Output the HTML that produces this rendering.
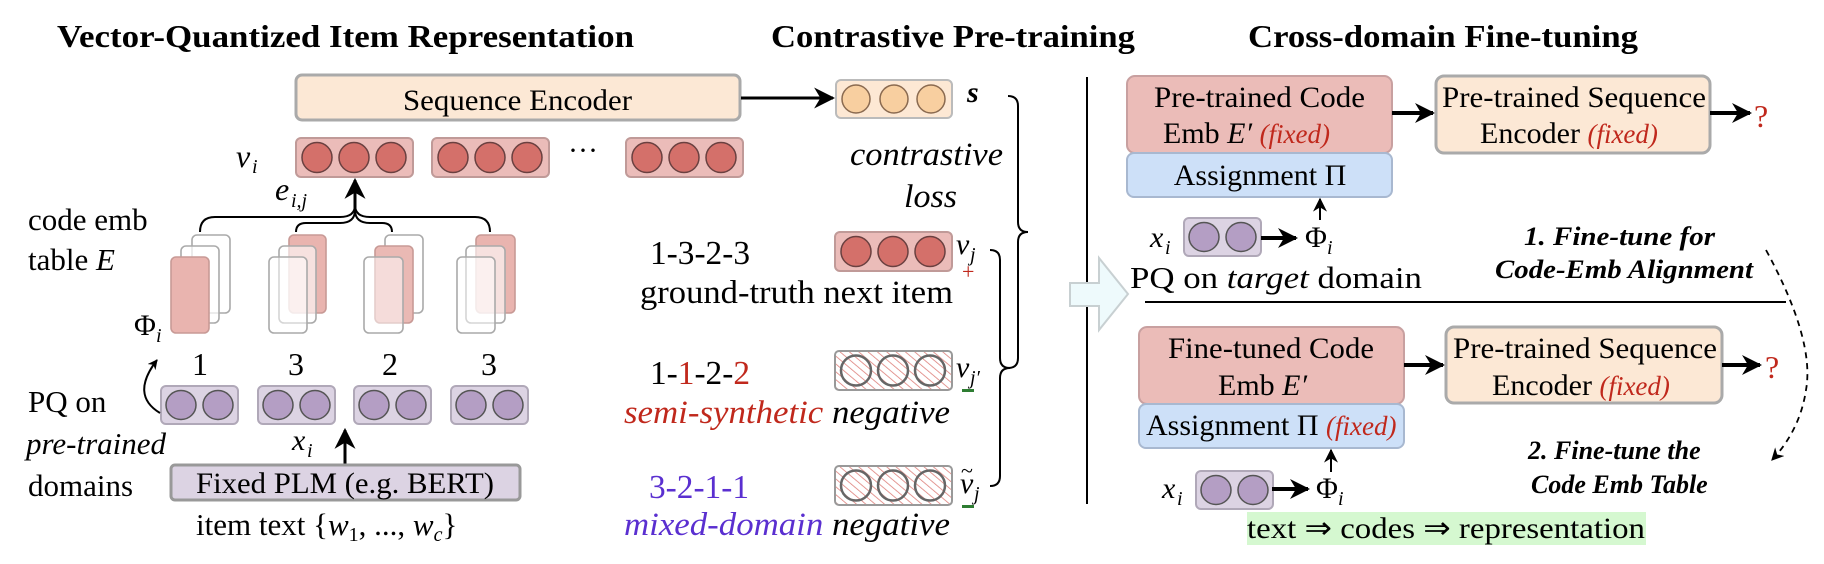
<!DOCTYPE html>
<html><head><meta charset="utf-8"><style>
html,body{margin:0;padding:0;background:#fff;}
svg{display:block;}
text{font-family:"Liberation Serif",serif;fill:#000;}
.b{font-weight:bold;}
.i{font-style:italic;}
</style></head><body>
<svg width="1824" height="564" viewBox="0 0 1824 564" xmlns="http://www.w3.org/2000/svg" font-family="Liberation Serif, serif">
<defs>
<marker id="ah" viewBox="0 0 10 10" refX="9" refY="5" markerWidth="5" markerHeight="5" orient="auto-start-reverse"><path d="M0,0 L10,5 L0,10 L3,5 z" fill="#000"/></marker>
<marker id="ahs" viewBox="0 0 10 10" refX="9" refY="5" markerWidth="7" markerHeight="7" orient="auto"><path d="M0,0 L10,5 L0,10 L3,5 z" fill="#000"/></marker>
<pattern id="hatch" width="6" height="6" patternUnits="userSpaceOnUse" patternTransform="rotate(-50)"><line x1="0" y1="0" x2="0" y2="6" stroke="#dd7f7a" stroke-width="1.6"/></pattern>
</defs>

<!-- Titles -->
<text x="57" y="47" class="b" font-size="32" textLength="577" lengthAdjust="spacingAndGlyphs">Vector-Quantized Item Representation</text>
<text x="771" y="47" class="b" font-size="32" textLength="364" lengthAdjust="spacingAndGlyphs">Contrastive Pre-training</text>
<text x="1248" y="47" class="b" font-size="32" textLength="390" lengthAdjust="spacingAndGlyphs">Cross-domain Fine-tuning</text>

<!-- Sequence Encoder -->
<rect x="296" y="75" width="444" height="45" rx="6" fill="#fce8d5" stroke="#aaa" stroke-width="3"/>
<text x="403" y="110" font-size="30" textLength="229" lengthAdjust="spacingAndGlyphs">Sequence Encoder</text>
<line x1="741" y1="98" x2="833" y2="98" stroke="#000" stroke-width="3" marker-end="url(#ahs)"/>

<!-- s box -->
<rect x="836" y="80" width="116" height="38" rx="5" fill="#fde8d4" stroke="#bbb" stroke-width="2"/>
<circle cx="856" cy="99" r="14" fill="#f8cfa0" stroke="#8a6a50" stroke-width="1.5"/>
<circle cx="894" cy="99" r="14" fill="#f8cfa0" stroke="#8a6a50" stroke-width="1.5"/>
<circle cx="931" cy="99" r="14" fill="#f8cfa0" stroke="#8a6a50" stroke-width="1.5"/>
<text x="967" y="102" class="i b" font-size="30">s</text>

<!-- v_i boxes -->
<text x="236" y="167" class="i" font-size="32">v</text><text x="252" y="173" class="i" font-size="20">i</text>
<g id="rb">
<rect x="296" y="138" width="117" height="39" rx="5" fill="#ebbcb9" stroke="#c09a98" stroke-width="2"/>
<circle cx="317" cy="157.5" r="15" fill="#d4706a" stroke="#6a4040" stroke-width="1.5"/>
<circle cx="354" cy="157.5" r="15" fill="#d4706a" stroke="#6a4040" stroke-width="1.5"/>
<circle cx="391" cy="157.5" r="15" fill="#d4706a" stroke="#6a4040" stroke-width="1.5"/>
</g>
<use href="#rb" x="136"/>
<use href="#rb" x="330"/>
<text x="568" y="160" font-size="30">···</text>

<!-- braces and arrow -->
<path d="M200,232 Q200,217 215,217 L340,217 Q355,217 355,205 Q355,217 370,217 L475,217 Q490,217 490,232" fill="none" stroke="#000" stroke-width="2"/>
<path d="M296,232 Q296,223 306,223 L340,223 Q355,223 355,210 Q355,223 370,223 L382,223 Q392,223 392,232" fill="none" stroke="#000" stroke-width="2"/>
<line x1="355" y1="212" x2="355" y2="180" stroke="#000" stroke-width="3" marker-end="url(#ahs)"/>
<text x="275" y="200" class="i" font-size="32">e</text><text x="291" y="207" class="i" font-size="20">i,j</text>

<text x="28" y="230" font-size="31">code emb</text>
<text x="28" y="270" font-size="31">table <tspan class="i">E</tspan></text>

<!-- code emb cards -->
<g stroke-width="1.6">
<rect x="192" y="235" width="38" height="78" rx="5" fill="#fff" stroke="#aaa"/>
<rect x="181" y="246" width="38" height="77" rx="5" fill="#fff" fill-opacity="0.7" stroke="#aaa"/>
<rect x="171" y="257" width="38" height="76" rx="5" fill="#e9b4af" stroke="#c89a96"/>

<rect x="289" y="235" width="37" height="78" rx="5" fill="#e9b4af" stroke="#c89a96"/>
<rect x="279" y="246" width="37" height="77" rx="5" fill="#fff" fill-opacity="0.6" stroke="#aaa"/>
<rect x="269" y="257" width="38" height="76" rx="5" fill="#fff" fill-opacity="0.5" stroke="#aaa"/>

<rect x="385" y="235" width="38" height="78" rx="5" fill="#fff" stroke="#aaa"/>
<rect x="375" y="246" width="38" height="77" rx="5" fill="#eab9b4" stroke="#c89a96"/>
<rect x="364" y="257" width="39" height="76" rx="5" fill="#fff" fill-opacity="0.5" stroke="#aaa"/>

<rect x="476" y="235" width="39" height="78" rx="5" fill="#e9b4af" stroke="#c89a96"/>
<rect x="466" y="246" width="39" height="77" rx="5" fill="#fff" fill-opacity="0.6" stroke="#aaa"/>
<rect x="457" y="257" width="38" height="76" rx="5" fill="#fff" fill-opacity="0.5" stroke="#aaa"/>
</g>
<text x="134" y="335" font-size="30">Φ</text><text x="156" y="342" class="i" font-size="20">i</text>

<g font-size="32" text-anchor="middle">
<text x="200" y="375">1</text><text x="296" y="375">3</text><text x="390" y="375">2</text><text x="489" y="375">3</text>
</g>

<!-- purple boxes -->
<g id="pb">
<rect x="161" y="386" width="77" height="38" rx="5" fill="#dcd3e3" stroke="#b0a8b8" stroke-width="2"/>
<ellipse cx="181" cy="405" rx="15" ry="14.5" fill="#b49ec4" stroke="#555" stroke-width="1.5"/>
<ellipse cx="218" cy="405" rx="15" ry="14.5" fill="#b49ec4" stroke="#555" stroke-width="1.5"/>
</g>
<use href="#pb" x="97"/>
<use href="#pb" x="193"/>
<use href="#pb" x="290"/>
<path d="M160,413 Q130,395 157,360" fill="none" stroke="#000" stroke-width="2" marker-end="url(#ah)"/>

<text x="28" y="412" font-size="31">PQ on</text>
<text x="26" y="454" class="i" font-size="31">pre-trained</text>
<text x="28" y="496" font-size="31">domains</text>

<text x="292" y="450" class="i" font-size="30">x</text><text x="307" y="457" class="i" font-size="20">i</text>
<line x1="345" y1="465" x2="345" y2="430" stroke="#000" stroke-width="3" marker-end="url(#ahs)"/>
<rect x="171" y="465" width="349" height="35" rx="4" fill="#dcd3e3" stroke="#999" stroke-width="3"/>
<text x="196" y="493" font-size="30" textLength="298" lengthAdjust="spacingAndGlyphs">Fixed PLM (e.g. BERT)</text>
<text x="196" y="535" font-size="31">item text {<tspan class="i">w</tspan><tspan font-size="20" dy="6">1</tspan><tspan dy="-6">, ..., </tspan><tspan class="i">w</tspan><tspan class="i" font-size="20" dy="6">c</tspan><tspan dy="-6">}</tspan></text>

<!-- middle column -->
<text x="850" y="165" class="i" font-size="33" textLength="153" lengthAdjust="spacingAndGlyphs">contrastive</text>
<text x="904" y="207" class="i" font-size="33" textLength="53" lengthAdjust="spacingAndGlyphs">loss</text>

<path d="M1008,96 Q1018,96 1018,106 L1018,222 Q1018,232 1028,232 Q1018,232 1018,242 L1018,358 Q1018,368 1008,368" fill="none" stroke="#000" stroke-width="2"/>
<path d="M990,250 Q1000,250 1000,260 L1000,358 Q1000,368 1010,368 Q1000,368 1000,378 L1000,476 Q1000,486 990,486" fill="none" stroke="#000" stroke-width="2"/>

<text x="650" y="264" font-size="34" textLength="100" lengthAdjust="spacingAndGlyphs">1-3-2-3</text>
<text x="640" y="303" font-size="33" textLength="313" lengthAdjust="spacingAndGlyphs">ground-truth next item</text>
<use href="#rb" x="539" y="94"/>
<text x="956" y="254" class="i" font-size="30">v</text><text x="970" y="261" class="i" font-size="20">j</text>
<text x="962" y="279" font-size="22" style="fill:#c0281c">+</text>

<text x="650" y="384" font-size="34" textLength="100" lengthAdjust="spacingAndGlyphs">1-<tspan style="fill:#c0281c">1</tspan>-2-<tspan style="fill:#c0281c">2</tspan></text>
<text x="624" y="423" class="i" font-size="33" textLength="326" lengthAdjust="spacingAndGlyphs"><tspan style="fill:#c0281c">semi-synthetic</tspan> negative</text>

<g id="hb">
<rect x="835" y="351" width="117" height="39" rx="4" fill="url(#hatch)" stroke="#999" stroke-width="2"/>
<circle cx="856" cy="370.5" r="15" fill="none" stroke="#666" stroke-width="2.5"/>
<circle cx="893" cy="370.5" r="15" fill="none" stroke="#666" stroke-width="2.5"/>
<circle cx="930" cy="370.5" r="15" fill="none" stroke="#666" stroke-width="2.5"/>
</g>
<text x="956" y="377" class="i" font-size="30">v</text><text x="970" y="384" class="i" font-size="20">j′</text>
<rect x="962" y="389" width="12" height="3" fill="#2e7d32"/>

<text x="649" y="498" font-size="34" textLength="100" lengthAdjust="spacingAndGlyphs" style="fill:#5a2fd0">3-2-1-1</text>
<text x="624" y="535" class="i" font-size="33" textLength="326" lengthAdjust="spacingAndGlyphs"><tspan style="fill:#5a2fd0">mixed-domain</tspan> negative</text>
<use href="#hb" y="115"/>
<text x="960" y="493" class="i" font-size="30">v</text><text x="961" y="478" font-size="22">~</text><text x="974" y="500" class="i" font-size="20">j</text>
<rect x="962" y="505" width="12" height="3" fill="#2e7d32"/>

<!-- separator -->
<line x1="1087" y1="77" x2="1087" y2="504" stroke="#000" stroke-width="2"/>
<!-- hollow arrow -->
<path d="M1070,283 L1099,283 L1099,258 L1128,294 L1099,330 L1099,306 L1070,306 Z" fill="#eefafc" stroke="#c8d0d2" stroke-width="2"/>

<!-- right top -->
<rect x="1127" y="76" width="265" height="77" rx="8" fill="#ebbcb8" stroke="#c8a0a0" stroke-width="2"/>
<text x="1154" y="107" font-size="30" textLength="211" lengthAdjust="spacingAndGlyphs">Pre-trained Code</text>
<text x="1163" y="143" font-size="30">Emb <tspan class="i">E′</tspan> <tspan class="i" font-size="27" style="fill:#c0281c">(fixed)</tspan></text>
<rect x="1127" y="153" width="265" height="44" rx="7" fill="#cde0f8" stroke="#a8b8d0" stroke-width="2"/>
<text x="1260" y="185" font-size="30" text-anchor="middle">Assignment Π</text>
<line x1="1392" y1="113" x2="1433" y2="113" stroke="#000" stroke-width="4" marker-end="url(#ah)"/>
<rect x="1436" y="76" width="274" height="77" rx="8" fill="#fce8d5" stroke="#aaa" stroke-width="3"/>
<text x="1442" y="107" font-size="30" textLength="264" lengthAdjust="spacingAndGlyphs">Pre-trained Sequence</text>
<text x="1480" y="143" font-size="30">Encoder <tspan class="i" font-size="27" style="fill:#c0281c">(fixed)</tspan></text>
<line x1="1710" y1="113" x2="1750" y2="113" stroke="#000" stroke-width="4" marker-end="url(#ah)"/>
<text x="1754" y="127" font-size="32" style="fill:#c0281c">?</text>
<line x1="1320" y1="220" x2="1320" y2="199" stroke="#000" stroke-width="2" marker-end="url(#ahs)"/>
<text x="1150" y="247" class="i" font-size="30">x</text><text x="1165" y="254" class="i" font-size="20">i</text>
<use href="#pb" x="1023" y="-168"/>
<line x1="1261" y1="238" x2="1296" y2="238" stroke="#000" stroke-width="4" marker-end="url(#ah)"/>
<text x="1305" y="247" font-size="30">Φ</text><text x="1327" y="254" class="i" font-size="20">i</text>
<text x="1130" y="288" font-size="31" textLength="292" lengthAdjust="spacingAndGlyphs">PQ on <tspan class="i">target</tspan> domain</text>
<text x="1524" y="245" class="b i" font-size="26" textLength="191" lengthAdjust="spacingAndGlyphs">1. Fine-tune for</text>
<text x="1495" y="278" class="b i" font-size="26" textLength="258" lengthAdjust="spacingAndGlyphs">Code-Emb Alignment</text>
<path d="M1766,250 Q1815,340 1806,390 Q1800,430 1772,460" fill="none" stroke="#000" stroke-width="1.8" stroke-dasharray="6,5" marker-end="url(#ahs)"/>

<line x1="1145" y1="302" x2="1786" y2="302" stroke="#000" stroke-width="2"/>

<!-- right bottom -->
<rect x="1139" y="327" width="265" height="77" rx="8" fill="#ebbcb8" stroke="#c8a0a0" stroke-width="2"/>
<text x="1168" y="358" font-size="30" textLength="206" lengthAdjust="spacingAndGlyphs">Fine-tuned Code</text>
<text x="1218" y="395" font-size="30">Emb <tspan class="i">E′</tspan></text>
<rect x="1139" y="404" width="265" height="44" rx="7" fill="#cde0f8" stroke="#a8b8d0" stroke-width="2"/>
<text x="1146" y="435" font-size="30">Assignment Π <tspan class="i" font-size="27" style="fill:#c0281c">(fixed)</tspan></text>
<line x1="1404" y1="365" x2="1443" y2="365" stroke="#000" stroke-width="4" marker-end="url(#ah)"/>
<rect x="1446" y="327" width="276" height="76" rx="8" fill="#fce8d5" stroke="#aaa" stroke-width="3"/>
<text x="1453" y="358" font-size="30" textLength="264" lengthAdjust="spacingAndGlyphs">Pre-trained Sequence</text>
<text x="1492" y="395" font-size="30">Encoder <tspan class="i" font-size="27" style="fill:#c0281c">(fixed)</tspan></text>
<line x1="1722" y1="365" x2="1760" y2="365" stroke="#000" stroke-width="4" marker-end="url(#ah)"/>
<text x="1765" y="378" font-size="32" style="fill:#c0281c">?</text>
<line x1="1331" y1="472" x2="1331" y2="450" stroke="#000" stroke-width="2" marker-end="url(#ahs)"/>
<text x="1162" y="498" class="i" font-size="30">x</text><text x="1177" y="505" class="i" font-size="20">i</text>
<use href="#pb" x="1035" y="85"/>
<line x1="1272" y1="489" x2="1308" y2="489" stroke="#000" stroke-width="4" marker-end="url(#ah)"/>
<text x="1316" y="498" font-size="30">Φ</text><text x="1338" y="505" class="i" font-size="20">i</text>
<text x="1528" y="459" class="b i" font-size="26">2. Fine-tune the</text>
<text x="1531" y="493" class="b i" font-size="26">Code Emb Table</text>

<rect x="1247" y="512" width="399" height="33" fill="#d5f8d0"/>
<text x="1247" y="538" font-size="30" textLength="398" lengthAdjust="spacingAndGlyphs">text ⇒ codes ⇒ representation</text>
</svg>
</body></html>
